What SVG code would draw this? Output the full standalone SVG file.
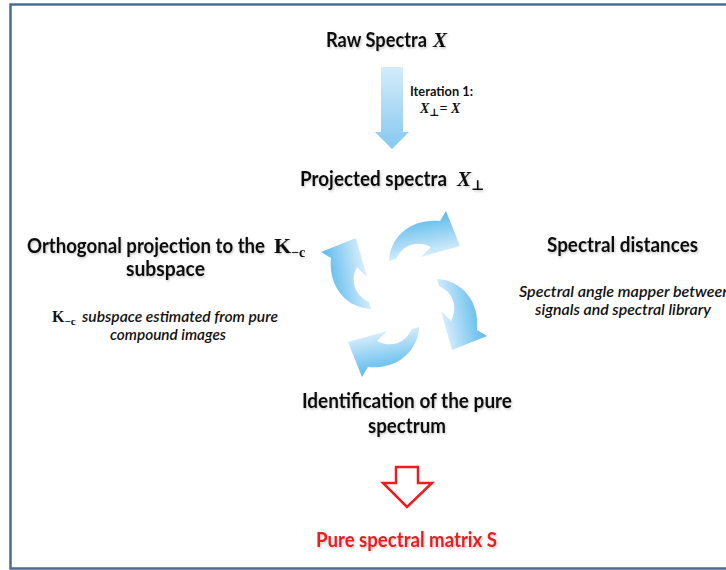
<svg xmlns="http://www.w3.org/2000/svg" xmlns:xlink="http://www.w3.org/1999/xlink" width="726" height="570" viewBox="0 0 726 570">
  <style>
    .head { font-family: Lato, "Liberation Sans", sans-serif; font-weight: 700; font-size: 20px; fill: #111; }
    .note { font-family: Lato, "Liberation Sans", sans-serif; font-style: italic; font-weight: 600; font-size: 16px; fill: #111; }
    .small { font-family: Lato, "Liberation Sans", sans-serif; font-weight: 700; font-size: 12.5px; fill: #111; }
    .math { font-family: "Liberation Serif", "DejaVu Serif", serif; font-style: italic; font-weight: 700; fill: #111; }
    .mbf { font-family: "Liberation Serif", "DejaVu Serif", serif; font-weight: 700; font-style: normal; fill: #111; }
    .red { fill: #ee1c1c; }
    .shadow { filter: url(#soft); }
  </style>
  <defs>
    <filter id="soft" x="-5%" y="-30%" width="110%" height="160%">
      <feDropShadow dx="1" dy="1.5" stdDeviation="1" flood-color="#000" flood-opacity="0.22"/>
    </filter>
    <linearGradient id="downFill" x1="0" y1="0" x2="0" y2="1">
      <stop offset="0" stop-color="#d4ecfb"/>
      <stop offset="1" stop-color="#86c8f0"/>
    </linearGradient>
    <linearGradient id="cycFill" gradientUnits="userSpaceOnUse" x1="0" y1="-82" x2="8" y2="-36">
      <stop offset="0" stop-color="#4eb0e6"/>
      <stop offset="0.45" stop-color="#86ccf2"/>
      <stop offset="1" stop-color="#d6edfb"/>
    </linearGradient>
    <!-- one curved arrow of the cycle, drawn at the top; the others are rotated copies -->
    <path id="cycArrow" d="M -15,-33 C -14,-58 8,-76 36,-73 L 42,-83 L 56,-48 L 17,-37 L 27,-47 C 14,-54 -1,-50 -8,-35 Z" fill="url(#cycFill)"/>
  </defs>

  <rect x="0" y="0" width="726" height="570" fill="#fff"/>
  <!-- frame -->
  <rect x="10.5" y="4.5" width="730" height="564" fill="#fff" stroke="#4b6b96" stroke-width="2.5"/>

  <g id="connectors">
    <path id="arrow-iteration" d="M381,67 H403 V132 H409 L392,149 L375,132 H381 Z" fill="url(#downFill)"/>
    <g id="cycle" transform="translate(404,294)">
      <use xlink:href="#cycArrow"/>
      <use xlink:href="#cycArrow" transform="rotate(90)"/>
      <use xlink:href="#cycArrow" transform="rotate(180)"/>
      <use xlink:href="#cycArrow" transform="rotate(270)"/>
    </g>
    <path id="arrow-result" d="M396,467 H418 V483 H432 L407,507 L383,483 H396 Z" fill="#fff" stroke="#ee1c1c" stroke-width="2.5" stroke-linejoin="miter"/>
  </g>

  <g id="node-raw" class="shadow">
    <text class="head" x="326" y="47"><tspan textLength="101" lengthAdjust="spacingAndGlyphs">Raw Spectra</tspan><tspan class="math" x="433" font-size="21">X</tspan></text>
  </g>

  <g id="label-iteration">
    <text class="small" x="410" y="96" textLength="63" lengthAdjust="spacingAndGlyphs">Iteration 1:</text>
    <text class="math" x="420" y="113" font-size="14">X<tspan font-size="10.5" dy="3" font-style="normal">⊥</tspan><tspan font-style="normal" dy="-3">=</tspan> X</text>
  </g>

  <g id="node-projected" class="shadow">
    <text class="head" x="300" y="186"><tspan textLength="147" lengthAdjust="spacingAndGlyphs">Projected spectra</tspan><tspan class="math" x="457" font-size="21">X</tspan><tspan class="math" font-size="14" dy="4" font-style="normal">⊥</tspan></text>
  </g>

  <g id="node-orthogonal">
    <g class="shadow">
      <text class="head" x="27" y="253"><tspan textLength="238" lengthAdjust="spacingAndGlyphs">Orthogonal projection to the</tspan><tspan class="mbf" x="274" font-size="22">K</tspan><tspan class="mbf" font-size="14" dy="4">−c</tspan></text>
      <text class="head" x="126" y="276" textLength="79" lengthAdjust="spacingAndGlyphs">subspace</text>
    </g>
    <text class="note" x="52" y="322"><tspan class="mbf" font-size="16">K</tspan><tspan class="mbf" font-size="11" dy="3">−c</tspan><tspan x="82" dy="-3" textLength="196" lengthAdjust="spacingAndGlyphs">subspace estimated from pure</tspan></text>
    <text class="note" x="110" y="340" textLength="116" lengthAdjust="spacingAndGlyphs">compound images</text>
  </g>

  <g id="node-distances">
    <text class="head shadow" x="547" y="252" textLength="151" lengthAdjust="spacingAndGlyphs">Spectral distances</text>
    <text class="note" x="519" y="297" textLength="212" lengthAdjust="spacingAndGlyphs">Spectral angle mapper between</text>
    <text class="note" x="535" y="315" textLength="176" lengthAdjust="spacingAndGlyphs">signals and spectral library</text>
  </g>

  <g id="node-identification" class="shadow">
    <text class="head" x="302" y="408" textLength="210" lengthAdjust="spacingAndGlyphs">Identification of the pure</text>
    <text class="head" x="368" y="433" textLength="78" lengthAdjust="spacingAndGlyphs">spectrum</text>
  </g>

  <g id="node-pure" class="shadow">
    <text class="head red" x="316" y="547" textLength="181" lengthAdjust="spacingAndGlyphs">Pure spectral matrix S</text>
  </g>
</svg>
